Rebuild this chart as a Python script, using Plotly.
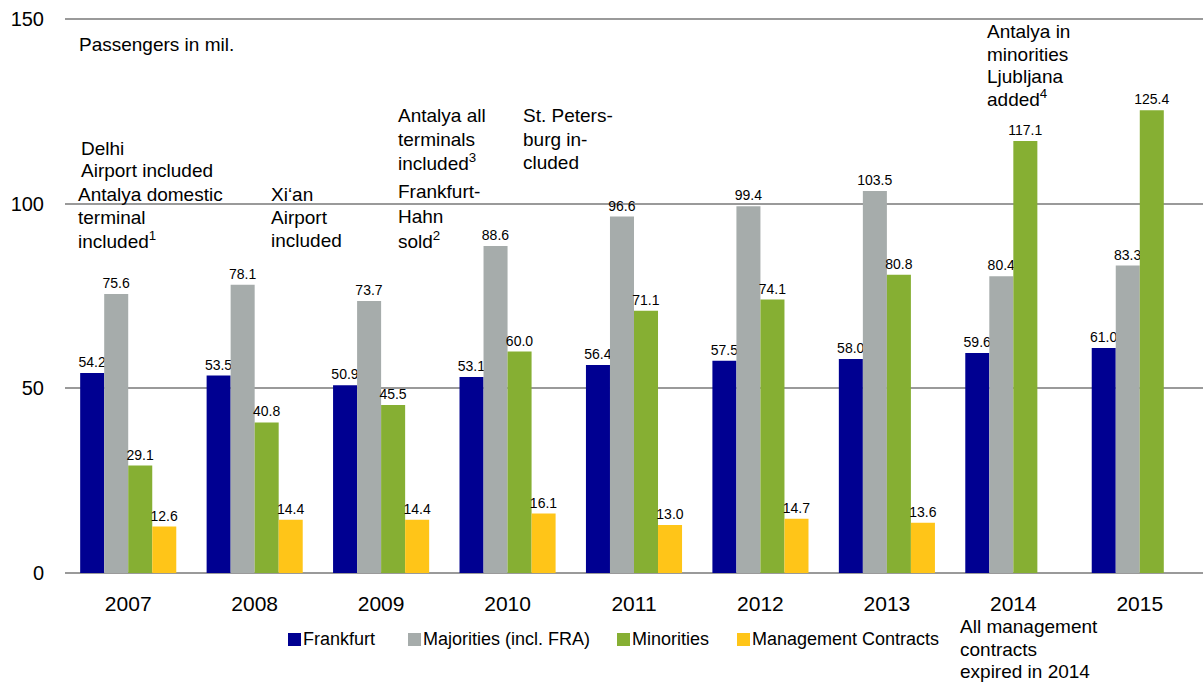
import plotly.graph_objects as go

years = ["2007", "2008", "2009", "2010", "2011", "2012", "2013", "2014", "2015"]
frankfurt = [54.2, 53.5, 50.9, 53.1, 56.4, 57.5, 58.0, 59.6, 61.0]
majorities = [75.6, 78.1, 73.7, 88.6, 96.6, 99.4, 103.5, 80.4, 83.3]
minorities = [29.1, 40.8, 45.5, 60.0, 71.1, 74.1, 80.8, 117.1, 125.4]
management = [12.6, 14.4, 14.4, 16.1, 13.0, 14.7, 13.6, None, None]

series = [
    ("Frankfurt", frankfurt, "#000091"),
    ("Majorities (incl. FRA)", majorities, "#A6ACAB"),
    ("Minorities", minorities, "#86AF33"),
    ("Management Contracts", management, "#FFC518"),
]

W, H = 1203, 682
L, R, T, B = 65, 0, 18, 109
pw, ph = W - L - R, H - T - B

def px(x):
    return (x - L) / pw

def py(y):
    return (H - B - y) / ph

FONT = "Liberation Sans, Arial, sans-serif"

fig = go.Figure()
for name, vals, col in series:
    xs = [c for c, v in zip(years, vals) if v is not None]
    ys = [v for v in vals if v is not None]
    fig.add_trace(go.Bar(
        name=name, x=xs, y=ys, marker_color=col, marker_line_width=0,
        texttemplate="%{y:.1f}",
        textposition="outside", cliponaxis=False, constraintext="none",
        textfont=dict(size=14, color="#000", family=FONT),
        showlegend=False,
    ))

# legend drawn as keys + labels (left px of each key)
legend_x = [288, 408, 617, 737]
for (name, vals, col), lx in zip(series, legend_x):
    fig.add_shape(type="rect", xref="paper", yref="paper",
                  x0=px(lx), x1=px(lx + 13), y0=py(646), y1=py(633),
                  fillcolor=col, line_width=0)
    fig.add_annotation(x=px(lx + 14), y=py(639), xref="paper", yref="paper", text=name,
                       showarrow=False, xanchor="left", yanchor="middle", borderpad=0,
                       font=dict(size=18, color="#000", family=FONT))

# (x px, y px centre, text) - one entry per text line
notes = [
    (78, 45, "Passengers in mil."),
    (80, 148, "Delhi"),
    (80, 171, "Airport included"),
    (77, 194, "Antalya domestic"),
    (77, 217, "terminal"),
    (77, 240, "included<sup>1</sup>"),
    (270, 194, "Xi‘an"),
    (270, 217, "Airport"),
    (270, 240, "included"),
    (397, 116, "Antalya all"),
    (397, 139, "terminals"),
    (397, 162, "included<sup>3</sup>"),
    (397, 191, "Frankfurt-"),
    (397, 216, "Hahn"),
    (397, 240, "sold<sup>2</sup>"),
    (522, 116, "St. Peters-"),
    (522, 139, "burg in-"),
    (522, 162, "cluded"),
    (986, 32, "Antalya in"),
    (986, 54, "minorities"),
    (986, 76, "Ljubljana"),
    (986, 98, "added<sup>4</sup>"),
    (959, 627, "All management"),
    (959, 649, "contracts"),
    (959, 671, "expired in 2014"),
]
for x, y, t in notes:
    fig.add_annotation(x=px(x), y=py(y), xref="paper", yref="paper", text=t,
                       showarrow=False, xanchor="left", yanchor="middle", align="left",
                       borderpad=0, font=dict(size=19, color="#000", family=FONT))

fig.update_layout(
    width=W, height=H, margin=dict(l=L, r=R, t=T, b=B, autoexpand=False),
    paper_bgcolor="white", plot_bgcolor="white",
    barmode="group", bargap=0.24, bargroupgap=0,
    font=dict(family=FONT, color="#000"),
    showlegend=False,
)
fig.update_xaxes(categoryorder="array", categoryarray=years,
                 tickfont=dict(size=21), showgrid=False, showline=False, ticks="",
                 ticklabelstandoff=16)
fig.update_yaxes(range=[0, 150.4], tickvals=[0, 50, 100, 150], tickfont=dict(size=20),
                 gridcolor="#9a9a9a", gridwidth=1.5, zeroline=True, zerolinecolor="#9a9a9a",
                 zerolinewidth=1.5, showline=False, ticks="", ticklabelstandoff=20)

fig.write_html("out.html", config={"displayModeBar": False},
               post_script="document.body.style.margin='0';document.body.style.padding='0';")
